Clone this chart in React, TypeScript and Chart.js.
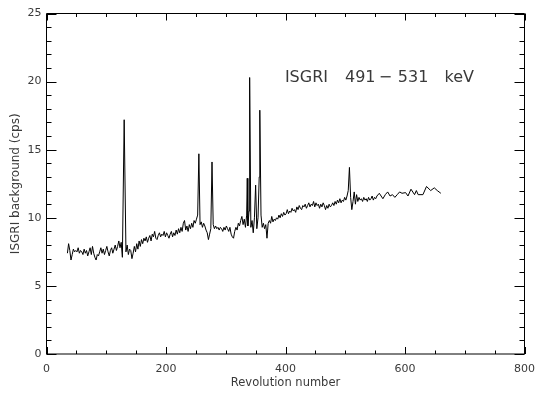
import React, { useEffect, useRef } from "react";
import { Chart, registerables } from "chart.js";

Chart.register(...registerables);

const REVOLUTIONS = [
  35, 37, 39, 41, 43, 45, 47, 49, 51, 53, 55, 57, 59, 61, 63, 65, 67, 69, 71, 73,
  75, 77, 79, 81, 83, 85, 87, 89, 91, 93, 95, 97, 99, 101, 103, 105, 107, 109, 111, 113,
  115, 117, 119, 121, 123, 125, 127, 130, 133, 135, 137, 139, 141, 143, 145, 147, 149, 151, 153, 155,
  157, 159, 161, 163, 165, 167, 169, 171, 173, 175, 177, 179, 181, 183, 185, 187, 189, 191, 193, 195,
  197, 199, 201, 203, 205, 207, 209, 211, 213, 215, 217, 219, 221, 223, 225, 227, 229, 231, 233, 235,
  237, 239, 241, 243, 245, 247, 249, 251, 253, 255, 257, 259, 261, 263, 265, 267, 269, 271, 273, 275,
  277, 279, 281, 283, 285, 287, 289, 291, 293, 295, 297, 299, 301, 303, 305, 307, 309, 311, 313, 315,
  317, 319, 321, 323, 325, 327, 329, 331, 333, 335, 336, 337, 339, 340, 342, 344, 346, 348, 350, 352,
  354, 356, 357, 359, 361, 363, 365, 367, 369, 371, 373, 375, 377, 379, 381, 383, 385, 387, 389, 391,
  393, 395, 397, 399, 401, 403, 405, 407, 409, 411, 413, 415, 417, 419, 421, 423, 425, 427, 429, 431,
  433, 435, 437, 439, 441, 443, 445, 447, 449, 451, 453, 455, 457, 459, 461, 463, 465, 467, 469, 471,
  473, 475, 477, 479, 481, 483, 485, 487, 489, 491, 493, 495, 497, 499, 501, 503, 505, 507, 509, 511,
  513, 515, 517, 519, 521, 523, 525, 527, 529, 531, 533, 535, 537, 539, 541, 543, 545, 547, 549, 551,
  553, 557, 563, 567, 571, 575, 579, 583, 587, 591, 595, 601, 605, 610, 616, 619, 622, 630, 636, 643,
  649, 654, 657, 660,
];

const BACKGROUND = [
  7.4, 8.1, 7.6, 6.9, 7.3, 7.7, 7.5, 7.6, 7.5, 7.8, 7.4, 7.6, 7.5, 7.3, 7.7, 7.4, 7.6, 7.2, 7.5, 7.8,
  7.3, 7.9, 7.4, 7.1, 6.9, 7.3, 7.2, 7.5, 7.8, 7.4, 7.7, 7.3, 7.6, 7.9, 7.5, 7.2, 7.6, 7.8, 7.4, 7.7,
  8.0, 7.6, 7.9, 8.3, 7.8, 8.2, 7.1, 17.2, 7.5, 8.0, 7.3, 7.7, 7.6, 7.0, 7.4, 7.9, 7.5, 8.1, 7.7, 8.3,
  7.9, 8.4, 8.1, 8.5, 8.3, 8.6, 8.2, 8.5, 8.7, 8.3, 8.8, 8.6, 9.0, 8.5, 8.4, 8.7, 8.9, 8.6, 8.8, 8.7,
  9.0, 8.6, 8.9, 8.7, 8.5, 8.8, 9.0, 8.6, 8.9, 8.7, 9.1, 8.8, 9.2, 8.9, 9.3, 9.0, 9.6, 9.8, 9.1, 9.4,
  9.0, 9.5, 9.2, 9.6, 9.3, 9.8, 9.6, 9.9, 10.2, 14.7, 9.5, 9.7, 9.3, 9.6, 9.4, 9.1, 8.9, 8.4, 8.8, 9.2,
  14.1, 9.5, 9.2, 9.4, 9.2, 9.3, 9.1, 9.3, 9.2, 9.0, 9.3, 9.1, 9.4, 9.2, 9.0, 9.3, 8.8, 8.6, 8.5, 9.0,
  9.3, 9.1, 9.6, 9.4, 9.8, 10.1, 9.5, 9.9, 9.3, 10.2, 12.9, 9.4, 10.5, 20.3, 9.3, 9.8, 8.9, 10.0, 12.4, 9.2,
  10.0, 13.0, 17.9, 10.2, 9.3, 9.6, 9.2, 9.5, 8.5, 9.6, 9.8, 9.6, 10.1, 9.7, 9.9, 9.8, 10.0, 9.9, 10.2, 10.0,
  10.3, 10.1, 10.4, 10.2, 10.3, 10.6, 10.3, 10.5, 10.4, 10.7, 10.5, 10.6, 10.4, 10.8, 10.6, 10.9, 10.7, 10.6, 10.9, 10.8,
  11.0, 10.7, 10.9, 11.1, 10.8, 11.0, 10.9, 11.2, 10.8, 11.1, 10.9, 11.0, 10.7, 11.0, 10.8, 11.1, 10.9, 10.6, 10.9, 10.7,
  11.0, 10.8, 10.9, 11.1, 10.9, 11.2, 11.0, 11.3, 11.1, 11.4, 11.1, 11.3, 11.2, 11.5, 11.3, 11.6, 12.0, 13.7, 11.5, 10.6,
  11.2, 11.9, 11.0, 11.7, 11.2, 11.5, 11.3, 11.4, 11.2, 11.5, 11.3, 11.4, 11.2, 11.5, 11.3, 11.4, 11.6, 11.3, 11.5, 11.4,
  11.6, 11.8, 11.4, 11.7, 11.9, 11.6, 11.7, 11.5, 11.7, 11.9, 11.8, 11.85, 11.6, 12.1, 11.7, 12.0, 11.7, 11.7, 12.3, 12.0,
  12.2, 12.0, 11.9, 11.8,
];

const X_TICKS = [0, 200, 400, 600, 800];
const Y_TICKS = [0, 5, 10, 15, 20, 25];
const X_MINOR_STEP = 50;
const Y_MINOR_STEP = 1;
const TITLE_PARTS = ["ISGRI", "491", "\u2212", "531", "keV"];
const X_TITLE = "Revolution number";
const Y_TITLE = "ISGRI background (cps)";

const FONT = "'DejaVu Sans', sans-serif";
const TEXT_COLOR = "#3a3a3a";

const boxPlugin = {
  id: "idlBox",
  afterDraw(chart: any) {
    const { ctx, chartArea: a, scales } = chart;
    const xs = scales.x;
    const ys = scales.y;
    ctx.save();
    ctx.strokeStyle = "#000";
    ctx.lineWidth = 1;
    ctx.beginPath();
    ctx.rect(a.left, a.top, a.right - a.left, a.bottom - a.top);
    ctx.stroke();
    ctx.beginPath();
    const xMin = X_TICKS[0];
    const xMax = X_TICKS[X_TICKS.length - 1];
    for (let v = xMin; v <= xMax; v += X_MINOR_STEP) {
      const px = Math.round(xs.getPixelForValue(v)) + 0.5;
      const len = X_TICKS.includes(v) ? 7 : 3.5;
      ctx.moveTo(px, a.bottom);
      ctx.lineTo(px, a.bottom - len);
      ctx.moveTo(px, a.top);
      ctx.lineTo(px, a.top + len);
    }
    const yMin = Y_TICKS[0];
    const yMax = Y_TICKS[Y_TICKS.length - 1];
    for (let v = yMin; v <= yMax; v += Y_MINOR_STEP) {
      const py = Math.round(ys.getPixelForValue(v)) + 0.5;
      const len = Y_TICKS.includes(v) ? 10 : 5;
      ctx.moveTo(a.left, py);
      ctx.lineTo(a.left + len, py);
      ctx.moveTo(a.right, py);
      ctx.lineTo(a.right - len, py);
    }
    ctx.stroke();

    // annotation text
    ctx.fillStyle = TEXT_COLOR;
    ctx.font = `16px ${FONT}`;
    ctx.textBaseline = "alphabetic";
    ctx.textAlign = "left";
    const baseY = ys.getPixelForValue(20);
    const xPos = [399, 499.5, 556, 588, 666];
    TITLE_PARTS.forEach((t, i) => {
      ctx.fillText(t, xs.getPixelForValue(xPos[i]), baseY);
    });
    ctx.restore();
  },
};

export default function App() {
  const ref = useRef<HTMLCanvasElement | null>(null);

  useEffect(() => {
    if (!ref.current) return;
    const data = REVOLUTIONS.map((r, i) => ({ x: r, y: BACKGROUND[i] }));
    const chart = new Chart(ref.current, {
      type: "line",
      data: {
        datasets: [
          {
            data,
            borderColor: "#000",
            borderWidth: 1,
            pointRadius: 0,
            tension: 0,
            fill: false,
          },
        ],
      },
      options: {
        animation: false,
        responsive: false,
        devicePixelRatio: 1,
        layout: { padding: { left: 0, right: 16.5, top: 13.5, bottom: 0 } },
        plugins: { legend: { display: false }, tooltip: { enabled: false } },
        scales: {
          x: {
            type: "linear",
            min: X_TICKS[0],
            max: X_TICKS[X_TICKS.length - 1],
            afterBuildTicks: (s: any) => {
              s.ticks = X_TICKS.map((v) => ({ value: v }));
            },
            afterFit: (s: any) => {
              s.height = 44;
            },
            grid: { display: false, drawTicks: false },
            border: { display: false },
            ticks: {
              padding: 9,
              maxRotation: 0,
              color: TEXT_COLOR,
              font: { family: FONT, size: 11 },
            },
            title: {
              display: true,
              text: X_TITLE,
              color: TEXT_COLOR,
              font: { family: FONT, size: 11.5 },
              padding: { top: 0, bottom: 8 },
            },
          },
          y: {
            type: "linear",
            min: Y_TICKS[0],
            max: Y_TICKS[Y_TICKS.length - 1],
            afterBuildTicks: (s: any) => {
              s.ticks = Y_TICKS.map((v) => ({ value: v }));
            },
            afterFit: (s: any) => {
              s.width = 46.5;
            },
            grid: { display: false, drawTicks: false },
            border: { display: false },
            ticks: {
              padding: 5,
              color: TEXT_COLOR,
              font: { family: FONT, size: 11 },
            },
            title: {
              display: true,
              text: Y_TITLE,
              color: TEXT_COLOR,
              font: { family: FONT, size: 12 },
              padding: { top: 9, bottom: 0 },
            },
          },
        },
      },
      plugins: [boxPlugin],
    });
    return () => chart.destroy();
  }, []);

  return (
    <div style={{ position: "fixed", left: 0, top: 0, width: 544, height: 398, background: "#fff" }}>
      <canvas ref={ref} width={544} height={398} />
    </div>
  );
}
